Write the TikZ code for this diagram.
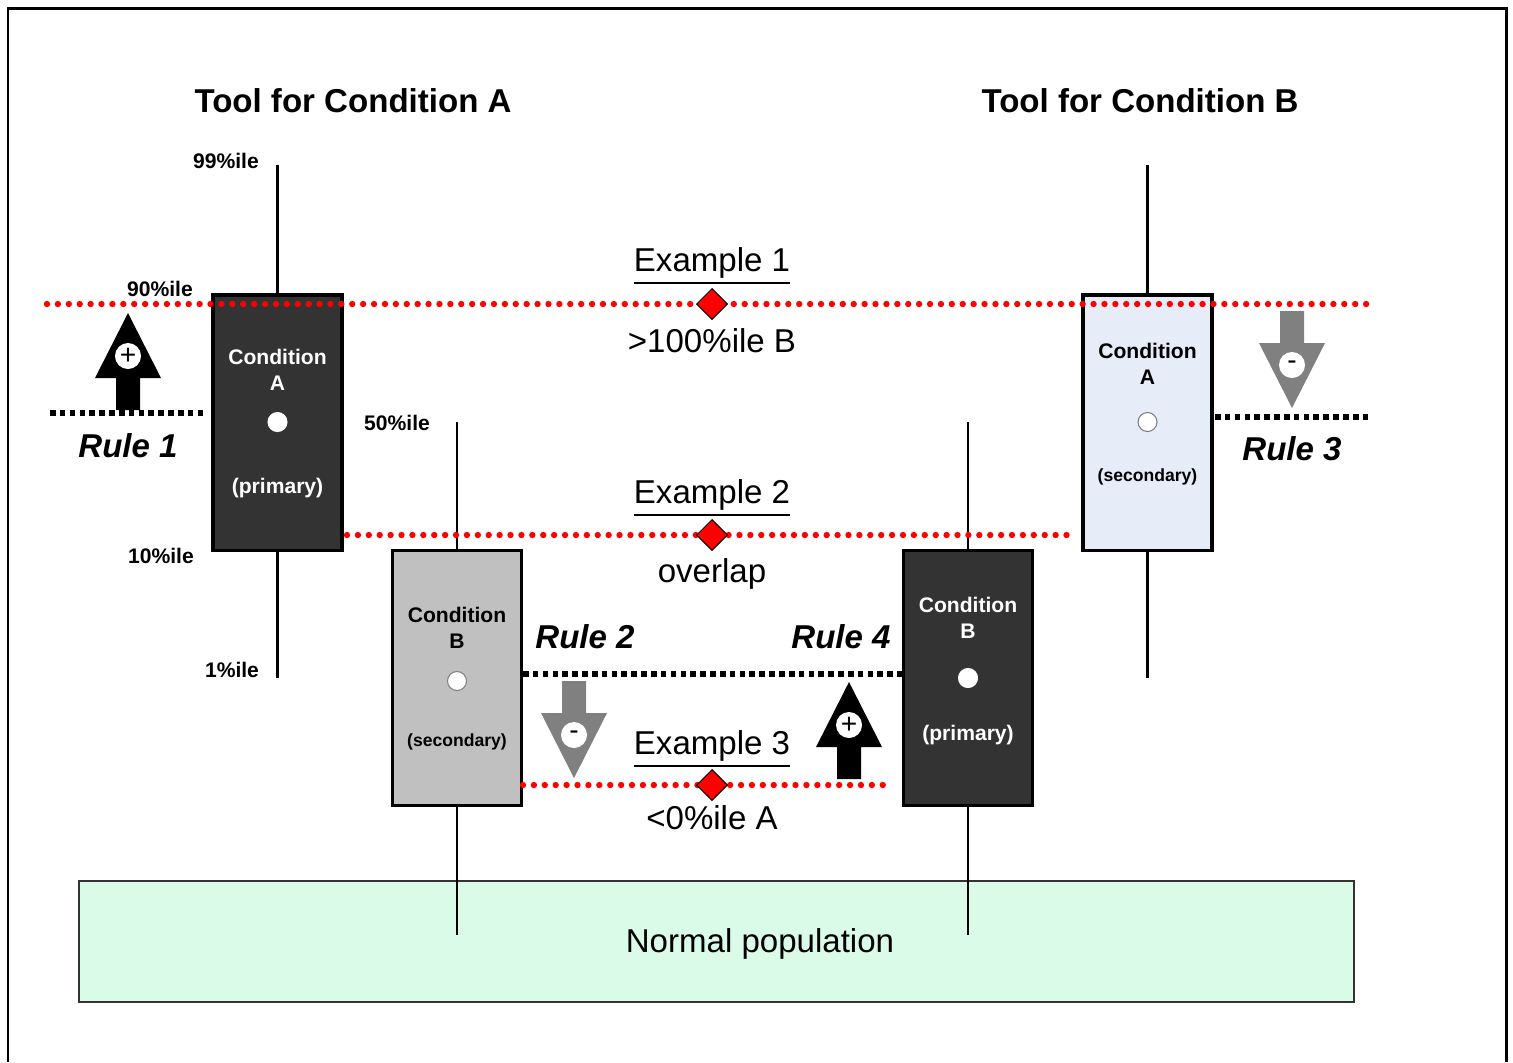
\documentclass[tikz,border=0pt]{standalone}
\usepackage{fontspec}
\setmainfont{Liberation Sans}
\usetikzlibrary{positioning, shapes.geometric}
\definecolor{boxDark}{HTML}{333333}
\definecolor{boxGray}{HTML}{C0C0C0}
\definecolor{boxBlue}{HTML}{E6ECF8}
\definecolor{popG}{HTML}{DBFBE9}
\definecolor{arrG}{HTML}{808080}
\definecolor{exRed}{HTML}{FF0000}

\begin{document}
\begin{tikzpicture}[x=0.01cm, y=-0.01cm,
  big/.style={font=\fontsize{9.4}{11}\selectfont},
  bigb/.style={font=\fontsize{9.4}{11}\selectfont\bfseries},
  rulelab/.style={font=\fontsize{9.4}{11}\selectfont\bfseries\itshape},
  pct/.style={font=\fontsize{6}{7.4}\selectfont\bfseries, inner sep=0pt},
  condbox/.style={draw=black, line width=0.9pt, minimum width=1.29cm,
                  minimum height=2.55cm, inner sep=0pt},
  whisker/.style={line width=0.6pt},
  exline/.style={exRed, line width=1.8pt, line cap=round,
                 dash pattern=on 0pt off 3.1pt},
  exmark/.style={diamond, fill=exRed, draw=black, line width=0.3pt,
                 minimum size=0.31cm, inner sep=0pt},
  ruleline/.style={line width=1.6pt, dash pattern=on 1.6pt off 1.2pt},
  sign/.style={circle, fill=white, minimum size=0.26cm, inner sep=0pt,
               font=\fontsize{8}{8}\selectfont}]
  \useasboundingbox (0,0) rectangle (1513,1062);
  % frame (open at the bottom)
  \draw[line width=0.85pt] (8,1062) -- (8,8) -- (1506,8) -- (1506,1062);
  % normal population band
  \node[draw=black!80, line width=0.6pt, fill=popG, minimum width=12.75cm,
        minimum height=1.21cm, inner sep=0pt] (normpop) at (716.5,941.5) {};
  \node[big] (normlab) at (760,944) {Normal population};
  % tool titles
  \node[bigb] (toolA) at (353,101) {Tool for Condition A};
  \node[bigb] (toolB) at (1140,101) {Tool for Condition B};
  % boxes: name, x, y, fill, text, cond, role, role size, cond-y, dot-y, role-y, dot rim, whisker top/bottom
  \foreach \n/\x/\y/\bg/\fg/\cond/\role/\rs/\cy/\dy/\ry/\rim/\wt/\wb in {%
    Ap/277.5/422.5/boxDark/white/A/primary/6/370/422/488/white/165/678,%
    Bs/457/678/boxGray/black/B/secondary/5/628/681/742/gray/422/935,%
    Bp/968/678/boxDark/white/B/primary/6/617.5/678/735/white/422/935,%
    As/1147.5/422.5/boxBlue/black/A/secondary/5/363.5/422/477/gray/165/678}{%
      \node[condbox, fill=\bg] (\n) at (\x,\y) {};
      \draw[whisker] (\n.north) -- (\x,\wt);
      \draw[whisker] (\n.south) -- (\x,\wb);
      \node[text=\fg, align=center, font=\fontsize{6}{7.4}\selectfont\bfseries]
        (\n cond) at (\x,\cy) {Condition\\\cond};
      \node[circle, fill=white, draw=\rim, line width=0.3pt,
            minimum size=0.19cm, inner sep=0pt] (\n dot) at (\x,\dy) {};
      \node[text=\fg, font=\fontsize{\rs}{7}\selectfont\bfseries]
        (\n role) at (\x,\ry) {(\role)};
  }
  % percentile labels
  \node[pct] (p99) at (226,161) {99\%ile};
  \node[pct] (p90) at (160,289) {90\%ile};
  \node[pct] (p50) at (397,423) {50\%ile};
  \node[pct] (p10) at (161,556) {10\%ile};
  \node[pct] (p01) at (232,670) {1\%ile};
  % example lines with markers
  \foreach \k/\yy/\xa/\xb/\top/\bot/\up/\dn in {%
    1/304/47/1372/{Example 1}/{>100\%ile B}/0.38/0.37,%
    2/535/347/1075/{Example 2}/{overlap}/0.37/0.39,%
    3/785/523/893/{Example 3}/{<0\%ile A}/0.36/0.33}{%
      \coordinate (ex\k w) at (\xa,\yy);
      \coordinate (ex\k e) at (\xb,\yy);
      \draw[exline] (ex\k w) -- (ex\k e);
      \node[exmark] (d\k) at (712,\yy) {};
      \node[big] (ex\k top) at ([yshift=\up cm]d\k) {\underline{\top}};
      \node[big] (ex\k bot) at ([yshift=-\dn cm]d\k) {\bot};
  }
  % rule thresholds
  \coordinate (r1w) at (50,413);   \coordinate (r1e) at (207,413);
  \coordinate (r2w) at (523,674);  \coordinate (r2e) at (903,674);
  \coordinate (r3w) at (1215,417); \coordinate (r3e) at (1372,417);
  \draw[ruleline] (r1w) -- (r1e);
  \draw[ruleline] (r2w) -- (r2e);
  \draw[ruleline] (r3w) -- (r3e);
  \node[rulelab] (rule1) at (128,446) {Rule 1};
  \node[rulelab] (rule2) at (585,637) {Rule 2};
  \node[rulelab] (rule4) at (841,637) {Rule 4};
  \node[rulelab] (rule3) at (1292,449) {Rule 3};
  % block arrows: x, tip y, direction (1 up, -1 down), colour, sign
  \foreach \x/\t/\s/\c/\sg [count=\k] in {%
    128/313/1/black/+, 574/778/-1/arrG/-, 849/682/1/black/+, 1292/408/-1/arrG/-}{%
      \fill[\c] (\x,\t) -- (\x+33,\t+65*\s) -- (\x+12,\t+65*\s)
        -- (\x+12,\t+97*\s) -- (\x-12,\t+97*\s) -- (\x-12,\t+65*\s)
        -- (\x-33,\t+65*\s) -- cycle;
      \node[sign] (sg\k) at (\x,\t+43*\s) {\sg};
  }
\end{tikzpicture}
\end{document}
